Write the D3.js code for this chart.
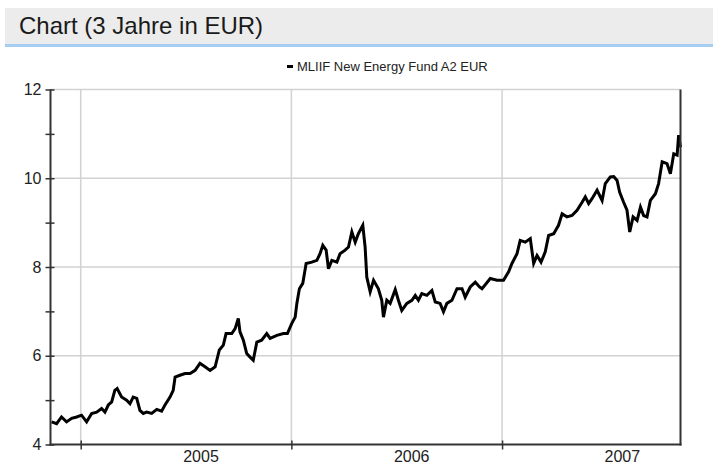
<!DOCTYPE html>
<html>
<head>
<meta charset="utf-8">
<script src="https://cdn.jsdelivr.net/npm/d3@7"></script>
<style>
  html, body { margin: 0; padding: 0; background: #fff; }
  svg { display: block; }
  text { font-family: "Liberation Sans", Arial, sans-serif; }
</style>
</head>
<body>
<svg id="chart" width="713" height="464"></svg>
<script>
// ---- data (decimal year, price in EUR) ----
const title = "Chart (3 Jahre in EUR)";
const seriesName = "MLIIF New Energy Fund A2 EUR";
const times = [
  2004.862, 2004.886, 2004.909, 2004.933, 2004.957, 2004.981, 2005.004, 2005.028, 2005.052, 2005.076,
  2005.099, 2005.115, 2005.131, 2005.147, 2005.162, 2005.173, 2005.194, 2005.218, 2005.234, 2005.249,
  2005.266, 2005.281, 2005.297, 2005.313, 2005.337, 2005.361, 2005.384, 2005.400, 2005.424, 2005.439,
  2005.448, 2005.471, 2005.495, 2005.519, 2005.543, 2005.566, 2005.590, 2005.614, 2005.638, 2005.658,
  2005.677, 2005.690, 2005.717, 2005.733, 2005.748, 2005.756, 2005.772, 2005.788, 2005.804, 2005.819,
  2005.836, 2005.859, 2005.883, 2005.899, 2005.931, 2005.962, 2005.981, 2006.002, 2006.018, 2006.026,
  2006.038, 2006.054, 2006.070, 2006.097, 2006.121, 2006.136, 2006.149, 2006.165, 2006.176, 2006.192,
  2006.216, 2006.231, 2006.255, 2006.271, 2006.287, 2006.303, 2006.318, 2006.339, 2006.350, 2006.358,
  2006.374, 2006.390, 2006.413, 2006.429, 2006.437, 2006.453, 2006.469, 2006.493, 2006.508, 2006.524,
  2006.548, 2006.572, 2006.588, 2006.603, 2006.619, 2006.643, 2006.667, 2006.683, 2006.706, 2006.722,
  2006.738, 2006.762, 2006.786, 2006.810, 2006.825, 2006.849, 2006.873, 2006.893, 2006.905, 2006.944,
  2006.976, 2007.007, 2007.031, 2007.047, 2007.071, 2007.086, 2007.110, 2007.134, 2007.150, 2007.166,
  2007.185, 2007.205, 2007.221, 2007.245, 2007.268, 2007.285, 2007.308, 2007.332, 2007.356, 2007.380,
  2007.395, 2007.411, 2007.427, 2007.451, 2007.475, 2007.490, 2007.514, 2007.530, 2007.546, 2007.558,
  2007.577, 2007.593, 2007.606, 2007.622, 2007.641, 2007.657, 2007.672, 2007.688, 2007.704, 2007.728,
  2007.743, 2007.760, 2007.783, 2007.799, 2007.815, 2007.831, 2007.838, 2007.847
];
const prices = [
  4.51, 4.47, 4.62, 4.51, 4.59, 4.62, 4.66, 4.51, 4.70, 4.73,
  4.81, 4.73, 4.89, 4.96, 5.22, 5.26, 5.07, 5.00, 4.92, 5.07,
  5.04, 4.77, 4.70, 4.73, 4.70, 4.79, 4.75, 4.89, 5.07, 5.22,
  5.52, 5.56, 5.60, 5.60, 5.67, 5.83, 5.75, 5.67, 5.75, 6.13,
  6.24, 6.50, 6.50, 6.61, 6.84, 6.54, 6.35, 6.05, 5.97, 5.90,
  6.31, 6.35, 6.50, 6.39, 6.46, 6.50, 6.50, 6.73, 6.87, 7.18,
  7.51, 7.63, 8.08, 8.11, 8.15, 8.30, 8.49, 8.38, 7.96, 8.15,
  8.11, 8.30, 8.38, 8.45, 8.79, 8.56, 8.75, 8.94, 8.45, 7.77,
  7.44, 7.70, 7.51, 7.25, 6.87, 7.25, 7.18, 7.49, 7.25, 7.02,
  7.18, 7.25, 7.36, 7.25, 7.40, 7.36, 7.47, 7.21, 7.18, 6.99,
  7.18, 7.25, 7.51, 7.51, 7.32, 7.55, 7.66, 7.55, 7.51, 7.74,
  7.70, 7.70, 7.89, 8.08, 8.30, 8.60, 8.56, 8.64, 8.08, 8.26,
  8.11, 8.34, 8.71, 8.75, 8.94, 9.20, 9.13, 9.16, 9.28, 9.46,
  9.58, 9.43, 9.54, 9.73, 9.50, 9.88, 10.03, 10.04, 9.95, 9.69,
  9.46, 9.28, 8.79, 9.13, 9.05, 9.35, 9.16, 9.13, 9.50, 9.65,
  9.88, 10.37, 10.33, 10.10, 10.55, 10.52, 10.97, 10.70
];
const timeDomain = [2004.857, 2007.847];
const yDomain = [4, 12];
const yMajorTicks = [4, 6, 8, 10, 12];
const yMinorTicks = [5, 7, 9, 11];
const yearLabels = ["2005", "2006", "2007"];

// ---- helpers ----
function decYearToDate(t) {
  const y = Math.floor(t);
  const start = Date.UTC(y, 0, 1), end = Date.UTC(y + 1, 0, 1);
  return new Date(start + (t - y) * (end - start));
}
const data = times.map((t, i) => ({ date: decYearToDate(t), value: prices[i] }));

// ---- layout ----
const svg = d3.select("#chart");
const plot = { left: 50.5, right: 680.5, top: 89.5, bottom: 444.5 };

// Header band
svg.append("rect").attr("x", 5).attr("y", 8).attr("width", 708).attr("height", 37).attr("fill", "#ececec");
svg.append("rect").attr("x", 5).attr("y", 44).attr("width", 708).attr("height", 3).attr("fill", "#a6cdf2");
svg.append("text").attr("x", 19).attr("y", 34).attr("font-size", 24).attr("fill", "#1a1a1a").text(title);

// Legend
svg.append("rect").attr("x", 287).attr("y", 65).attr("width", 6).attr("height", 3).attr("fill", "#000");
svg.append("text").attr("x", 297).attr("y", 71).attr("font-size", 13).attr("fill", "#222").text(seriesName);

const x = d3.scaleUtc().domain(timeDomain.map(decYearToDate)).range([plot.left, plot.right]);
const y = d3.scaleLinear().domain(yDomain).range([plot.bottom, plot.top]);

const yearStarts = yearLabels.map(s => new Date(Date.UTC(+s, 0, 1)));
const labelDates = yearLabels.map(s => decYearToDate(+s + 0.571));

// Grid lines
const g = svg.append("g");
g.selectAll(".hgrid").data(yMajorTicks.filter(v => v > yDomain[0]))
  .join("line")
  .attr("x1", plot.left).attr("x2", plot.right)
  .attr("y1", d => y(d)).attr("y2", d => y(d))
  .attr("stroke", "#d2d2d2").attr("stroke-width", 1.5);
g.selectAll(".vgrid").data(yearStarts)
  .join("line")
  .attr("x1", d => x(d)).attr("x2", d => x(d))
  .attr("y1", plot.top).attr("y2", plot.bottom)
  .attr("stroke", "#d2d2d2").attr("stroke-width", 1.5);

// Line
svg.append("path").datum(data)
  .attr("d", d3.line().x(d => x(d.date)).y(d => y(d.value)))
  .attr("fill", "none").attr("stroke", "#000").attr("stroke-width", 3)
  .attr("stroke-linejoin", "miter");

// Axes frame
const axisColor = "#333";
svg.append("line").attr("x1", plot.left).attr("x2", plot.left).attr("y1", plot.top).attr("y2", plot.bottom + 1)
  .attr("stroke", axisColor).attr("stroke-width", 2);
svg.append("line").attr("x1", plot.right).attr("x2", plot.right).attr("y1", plot.top).attr("y2", plot.bottom + 1)
  .attr("stroke", axisColor).attr("stroke-width", 2);
svg.append("line").attr("x1", plot.left - 1).attr("x2", plot.right + 1).attr("y1", plot.bottom).attr("y2", plot.bottom)
  .attr("stroke", axisColor).attr("stroke-width", 2);

// Y axis ticks (crossing)
const yAxis = d3.axisLeft(y).tickValues(yMajorTicks.concat(yMinorTicks)).tickSizeInner(-4).tickSizeOuter(0)
  .tickFormat(d => yMajorTicks.includes(d) ? d : "");
const ya = svg.append("g").attr("transform", `translate(${plot.left},0)`).call(yAxis);
ya.select(".domain").remove();
ya.selectAll(".tick line").attr("x1", -5).attr("x2", 4).attr("stroke", axisColor).attr("stroke-width", 1.5);
ya.selectAll(".tick text").attr("x", -9).attr("font-size", 16).attr("fill", "#222")
  .attr("font-family", "Liberation Sans, Arial, sans-serif");

// X axis ticks at year starts (crossing) and labels
const xAxis = d3.axisBottom(x).tickValues(yearStarts).tickFormat("").tickSizeOuter(0);
const xa = svg.append("g").attr("transform", `translate(0,${plot.bottom})`).call(xAxis);
xa.select(".domain").remove();
xa.selectAll(".tick line").attr("y1", -4).attr("y2", 5).attr("stroke", axisColor).attr("stroke-width", 1.5);
svg.append("g").selectAll("text").data(labelDates)
  .join("text")
  .attr("x", d => x(d)).attr("y", 462)
  .attr("text-anchor", "middle").attr("font-size", 16).attr("fill", "#222")
  .text((d, i) => yearLabels[i]);
</script>
</body>
</html>
